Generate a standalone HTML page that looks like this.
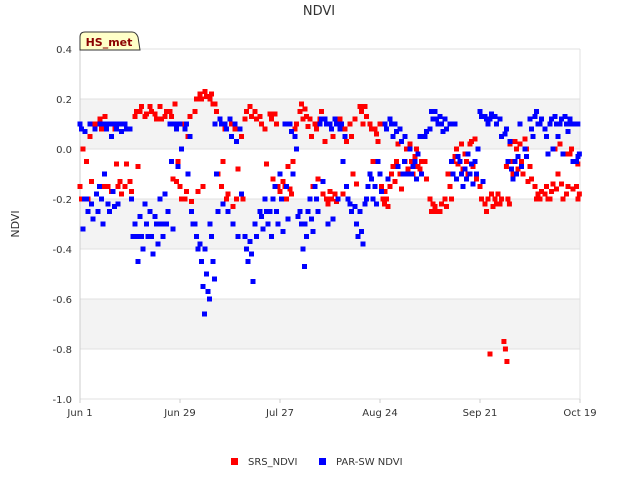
<!DOCTYPE html>
<html><head><meta charset="utf-8"><style>
body{margin:0;background:#fff;}
svg text{font-family:"DejaVu Sans","Liberation Sans",sans-serif;}
</style></head><body>
<svg id="chart" width="640" height="480" xmlns="http://www.w3.org/2000/svg">
<text x="319" y="15" text-anchor="middle" font-size="13" fill="#333">NDVI</text>
<text x="19" y="224" text-anchor="middle" font-size="11" fill="#333" transform="rotate(-90 19 224)">NDVI</text>
<g id="bands"></g><g id="grid"></g><g id="ticks"></g><g id="marks"></g>
<g>
<path d="M80,50 L80,37 Q80,32 85,32 L132,32 Q136,32 138,37 L140,50 Z" fill="#ffffc8" stroke="#333" stroke-width="1"/>
<text x="109" y="46" text-anchor="middle" font-size="11" font-weight="bold" fill="#8b0000">HS_met</text>
</g>
<g>
<rect x="231" y="458" width="7" height="7" fill="#f00"/>
<text x="248" y="465" font-size="10" fill="#333">SRS_NDVI</text>
<rect x="319" y="458" width="7" height="7" fill="#00f"/>
<text x="336" y="465" font-size="10" fill="#333">PAR-SW NDVI</text>
</g>
</svg>
<script>
const yTicks=[0.4,0.2,0.0,-0.2,-0.4,-0.6,-0.8,-1.0];
const yTickLabels=["0.4","0.2","0.0","-0.2","-0.4","-0.6","-0.8","-1.0"];
const xTickDays=[0,28,56,84,112,140];
const xTickLabels=["Jun 1","Jun 29","Jul 27","Aug 24","Sep 21","Oct 19"];
// [day, values...]
const srsData=[
[0,-0.15,-0.2,0.0],[1.4,0.07,-0.05,-0.2],[2.8,0.05,-0.13],[4.2,0.1,-0.18],[5.6,0.12,0.08,-0.15],[7,0.13,0.1,-0.15],[8.4,0.1,-0.17],[9.8,0.08,-0.06,-0.15],[11.2,-0.13,-0.18],[12.6,-0.15,-0.06],[14,-0.13,-0.17],[15.4,0.13,0.15,-0.07],[16.8,0.15,0.17],[18.2,0.13,0.14],[19.6,0.17,0.15],[21,0.14,0.12],[22.4,0.17,0.12],[23.8,0.13,0.15],[25.2,0.15,0.13,-0.12],[26.6,0.18,-0.13,-0.05],
[28,-0.15,-0.2,0.1],[29.4,-0.2,-0.17,0.05],[30.8,0.13,-0.21],[32.2,0.15,0.2,-0.17],[33.6,0.22,0.2,-0.15],[35,0.23,0.21],[36.4,0.2,0.22,0.18],[37.8,0.18,0.15,-0.1],[39.2,0.12,-0.15,-0.05],[40.6,0.08,-0.2,-0.18],[42,0.12,0.1,-0.23],[43.4,0.08,-0.2,-0.08],[44.8,0.08,0.05,-0.2],[46.2,0.12,0.15],[47.6,0.17,0.13],[49,0.15,0.12],[50.4,0.13,0.1],[51.8,0.08,-0.06],[53.2,0.14,0.12,-0.12],[54.6,0.14,0.1,-0.15],
[56,-0.17,-0.2,-0.13],[57.4,-0.15,-0.2,-0.07],[58.8,-0.16,-0.18,-0.05],[60.2,0.08,0.1],[61.6,0.15,0.18,0.12],[63,0.16,0.13,0.09],[64.4,0.12,0.05,-0.15],[65.8,0.1,0.08,-0.12],[67.2,0.12,0.15,-0.18],[68.6,0.03,-0.2,-0.22],[70,-0.17,-0.2,0.05],[71.4,-0.18,-0.21,-0.2],[72.8,0.12,0.1,-0.18],[74.2,0.08,0.03],[75.6,0.1,0.05,-0.1],[77,0.12,-0.14],[78.4,0.17,0.15,0.1],[79.8,0.17,0.13],[81.2,0.1,0.08,-0.05],[82.6,0.08,0.06,0.03],
[84,0.1,-0.15,-0.2,-0.22],[85.4,-0.17,-0.2,-0.23],[86.8,-0.15,-0.1,-0.07],[88.2,-0.13,-0.05,0.02],[89.6,-0.1,-0.16],[91,-0.05,0.0,-0.08],[92.4,0.02,-0.05,-0.1],[93.8,-0.03,0.0,-0.07],[95.2,-0.08,-0.05],[96.6,-0.05,-0.12],[98,-0.2,-0.25,-0.22],[99.4,-0.23,-0.25],[100.8,-0.25,-0.22],[102.2,-0.2,-0.23,-0.1],[103.6,-0.15,-0.2,-0.05],[105,-0.03,0.0,-0.06],[106.4,-0.05,0.02,-0.08],[107.8,-0.02,-0.05,-0.1],[109.2,0.02,0.03,-0.07],[110.6,0.04,-0.12],
[112,-0.15,-0.2],[113.4,-0.22,-0.25,-0.2],[114.8,-0.82,-0.18,-0.23],[116.2,-0.2,-0.22,-0.18],[117.6,-0.22,-0.2],[118.7,-0.77,-0.8,-0.85],[119.4,-0.07,-0.2,-0.22],[120.4,0.02,-0.05,-0.1],[121.8,0.03,0.0,-0.08],[123.2,0.02,-0.05,-0.1],[124.6,0.04,0.0,-0.13],[126,-0.07,-0.12],[127.4,-0.15,-0.2,-0.18],[128.8,-0.2,-0.17],[130.2,-0.18,-0.15,-0.2],[131.6,-0.2,-0.17,-0.14],[133,0.0,-0.16,-0.1],[134.4,0.02,-0.14,-0.2],[135.8,-0.02,-0.18,-0.15],[137.2,-0.02,0.0,-0.16],[138.6,-0.05,-0.15,-0.2],[139.4,-0.06,-0.18]
];
const parData=[
[0,0.1,0.08,-0.32,-0.2],[1.4,0.07,-0.2,-0.25],[2.8,0.1,-0.22,-0.28],[4.2,0.08,-0.18,-0.25,-0.15],[5.6,0.1,-0.2,-0.3,-0.1],[7,0.1,0.08,-0.22,-0.25],[8.4,0.1,0.05,-0.17,-0.23],[9.8,0.1,0.08,-0.22],[11.2,0.1,0.07],[12.6,0.1,0.08],[14,0.08,-0.2,-0.35],[15.4,-0.3,-0.35,-0.45],[16.8,-0.27,-0.35,-0.4],[18.2,-0.22,-0.3,-0.35],[19.6,-0.25,-0.35,-0.42],[21,-0.27,-0.3,-0.38],[22.4,-0.2,-0.3,-0.35],[23.8,-0.18,-0.3,-0.25],[25.2,0.1,-0.05,-0.32],[26.6,0.1,0.08,-0.07],
[28,0.1,0.0],[29.4,0.08,0.1,-0.1],[30.8,0.05,-0.25,-0.3],[32.2,-0.3,-0.35,-0.4],[33.6,-0.38,-0.45,-0.55,-0.66],[35,-0.4,-0.5,-0.57,-0.6],[36.4,-0.3,-0.35,-0.45,-0.52],[37.8,0.1,-0.1,-0.25],[39.2,0.12,0.1,-0.22],[40.6,0.1,0.08,-0.25],[42,0.12,0.05,-0.3],[43.4,0.1,0.03,-0.35],[44.8,0.08,-0.18],[46.2,-0.35,-0.4,-0.45],[47.6,-0.37,-0.42,-0.53],[49,-0.3,-0.35],[50.4,-0.25,-0.27,-0.32],[51.8,-0.2,-0.25,-0.3],[53.2,-0.25,-0.35,-0.2],[54.6,-0.15,-0.25,-0.3],
[56,-0.1,-0.2,-0.33],[57.4,0.1,-0.15,-0.28],[58.8,0.1,0.07,-0.1],[60.2,0.05,0.0,-0.27],[61.6,-0.25,-0.3,-0.4,-0.47],[63,-0.3,-0.35,-0.25],[64.4,-0.2,-0.28,-0.33],[65.8,-0.15,-0.2,-0.25],[67.2,0.1,0.12,-0.13],[68.6,0.12,0.1,-0.3],[70,0.1,0.08,-0.28],[71.4,0.12,0.1,-0.2],[72.8,0.08,0.1,-0.05],[74.2,0.05,-0.15,-0.2],[75.6,-0.22,-0.25],[77,-0.23,-0.3,-0.35],[78.4,-0.25,-0.33,-0.38],[79.8,-0.22,-0.2,-0.15],[81.2,-0.1,-0.12,-0.2],[82.6,-0.15,-0.22,-0.05],
[84,-0.1,-0.17],[85.4,0.1,0.08,-0.12],[86.8,0.12,0.1,0.05],[88.2,0.1,0.07,-0.07],[89.6,0.08,0.03,-0.1,-0.05],[91,0.05,-0.1],[92.4,0.0,-0.1,-0.07],[93.8,-0.05,-0.12,-0.02],[95.2,0.05,-0.1],[96.6,0.05,0.07],[98,0.08,0.15,0.12],[99.4,0.15,0.12,0.1],[100.8,0.13,0.1,0.07],[102.2,0.12,0.08],[103.6,0.1,-0.05,-0.1],[105,0.1,-0.12,-0.03],[106.4,-0.05,-0.1,-0.15],[107.8,-0.08,-0.12,-0.02],[109.2,-0.1,-0.06,-0.14],[110.6,-0.05,-0.1,0.0],
[112,0.15,0.13,-0.13],[113.4,0.13,0.12,0.1],[114.8,0.12,0.14],[116.2,0.13,0.1],[117.6,0.12,0.05],[119,0.06,0.08,-0.05],[120.4,0.03,-0.08,-0.12],[121.8,-0.05,-0.1,-0.03],[123.2,0.1,-0.07],[124.6,0.0,-0.03],[126,0.12,0.08,0.05],[127.4,0.13,0.15,0.1],[128.8,0.1,0.12],[130.2,0.08,0.05,-0.02],[131.6,0.1,0.12,0.0],[133,0.13,0.1,0.05],[134.4,0.1,0.12,-0.02],[135.8,0.13,0.1,0.07],[137.2,0.12,0.1,-0.05],[138.6,0.1,-0.05,-0.03],[139.4,0.1,-0.02]
];
const NS="http://www.w3.org/2000/svg";
const L=80,R=580,T=49,B=399;
const xScale=d=>L+(d/140)*(R-L);
const yScale=v=>T+(0.4-v)/1.4*(B-T);
function mk(tag,attrs,parent){const e=document.createElementNS(NS,tag);for(const k in attrs)e.setAttribute(k,attrs[k]);parent.appendChild(e);return e;}
const bands=document.getElementById('bands'),grid=document.getElementById('grid'),ticks=document.getElementById('ticks'),marks=document.getElementById('marks');
[[0.2,0.0],[-0.2,-0.4],[-0.6,-0.8]].forEach((b,i)=>{
 const r=mk('rect',{x:L,y:yScale(b[0]),width:R-L,height:yScale(b[1])-yScale(b[0]),fill:'#f3f3f3'},bands);
 
 
});
yTicks.forEach((v,i)=>{
 const g=mk('line',{x1:L,x2:R,y1:yScale(v),y2:yScale(v),stroke:'#e0e0e0','stroke-width':1},grid);
 
 
 const t=mk('text',{x:72,y:yScale(v)+4,'text-anchor':'end','font-size':10,fill:'#333'},ticks);
 t.textContent=yTickLabels[i];
 
 
});
const ax=mk('line',{x1:L,x2:L,y1:T,y2:B,stroke:'#ccc'},grid);


const ax2=mk('line',{x1:R,x2:R,y1:T,y2:B,stroke:'#e0e0e0'},grid);


xTickDays.forEach((d,i)=>{
 const t=mk('text',{x:xScale(d),y:416,'text-anchor':'middle','font-size':10,fill:'#333'},ticks);
 t.textContent=xTickLabels[i];
 
 
 const tk=mk('line',{x1:xScale(d),x2:xScale(d),y1:B,y2:B+4,stroke:'#ccc'},ticks);
 
 
});
function drawSeries(data,color,name){
 data.forEach(g=>{
  const day=g[0];
  for(let j=1;j<g.length;j++){
   const r=mk('rect',{x:xScale(day)-2.5+(j-1)*1.5,y:yScale(g[j])-2.5,width:5,height:5,fill:color},marks);
   
   
  }
 });
}
drawSeries(srsData,'#f00','srs-point');
drawSeries(parData,'#00f','par-point');
</script>
</body></html>
